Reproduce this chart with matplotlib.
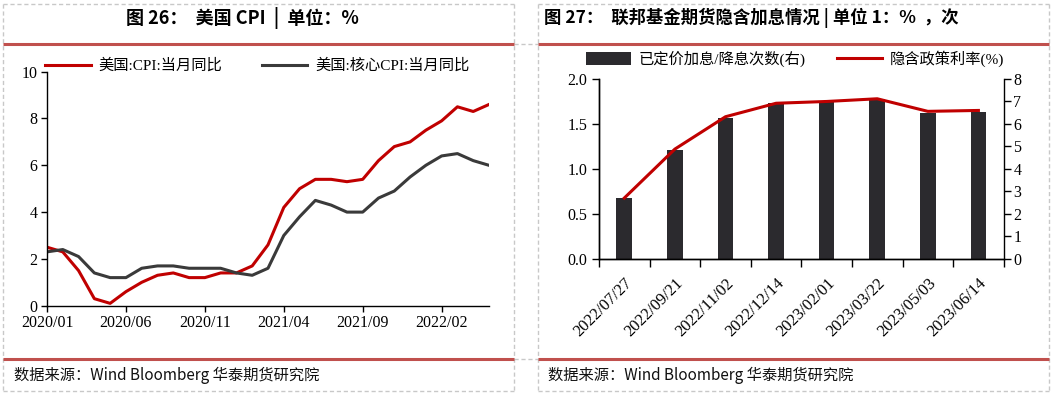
import matplotlib
matplotlib.use('Agg')
import matplotlib.pyplot as plt
from matplotlib.lines import Line2D
import numpy as np

# --- dados ---
months = ['2020/01', '2020/02', '2020/03', '2020/04', '2020/05', '2020/06',
          '2020/07', '2020/08', '2020/09', '2020/10', '2020/11', '2020/12',
          '2021/01', '2021/02', '2021/03', '2021/04', '2021/05', '2021/06',
          '2021/07', '2021/08', '2021/09', '2021/10', '2021/11', '2021/12',
          '2022/01', '2022/02', '2022/03', '2022/04', '2022/05']
cpi_yoy = [2.5, 2.3, 1.5, 0.3, 0.1, 0.6, 1.0, 1.3, 1.4, 1.2, 1.2, 1.4,
           1.4, 1.7, 2.6, 4.2, 5.0, 5.4, 5.4, 5.3, 5.4, 6.2, 6.8, 7.0,
           7.5, 7.9, 8.5, 8.3, 8.6]
core_cpi_yoy = [2.3, 2.4, 2.1, 1.4, 1.2, 1.2, 1.6, 1.7, 1.7, 1.6, 1.6, 1.6,
                1.4, 1.3, 1.6, 3.0, 3.8, 4.5, 4.3, 4.0, 4.0, 4.6, 4.9, 5.5,
                6.0, 6.4, 6.5, 6.2, 6.0]

fomc_dates = ['2022/07/27', '2022/09/21', '2022/11/02', '2022/12/14',
              '2023/02/01', '2023/03/22', '2023/05/03', '2023/06/14']
hikes_priced = [2.70, 4.84, 6.26, 6.93, 7.00, 7.11, 6.48, 6.53]
implied_rate = [0.675, 1.22, 1.58, 1.73, 1.75, 1.78, 1.64, 1.65]

W, H = 1052, 395
RED = '#C00000'
DARK = '#3A3A3A'
BAR = '#2B2A2E'
FRAME_RED = '#C0504D'
SERIF = ['Liberation Serif', 'Noto Sans CJK SC']
CJK = ['Noto Sans CJK SC', 'DejaVu Sans']

plt.rcParams['font.family'] = SERIF
plt.rcParams['axes.linewidth'] = 1.0

fig = plt.figure(figsize=(W / 100, H / 100), dpi=100)


def fx(px):
    return px / W


def fy(py):
    return 1 - py / H


def hline(x0, x1, y, **kw):
    fig.add_artist(Line2D([fx(x0), fx(x1)], [fy(y), fy(y)], transform=fig.transFigure, **kw))


def vline(x, y0, y1, **kw):
    fig.add_artist(Line2D([fx(x), fx(x)], [fy(y0), fy(y1)], transform=fig.transFigure, **kw))


# moldura tracejada dos paineis
dash = dict(color='#C8C8C8', lw=1.0, ls=(0, (3, 2)))
for x0, x1 in [(3, 514), (538, 1049)]:
    hline(x0, x1, 3.5, **dash)
    hline(x0, x1, 391, **dash)
    vline(x0, 3.5, 391, **dash)
    vline(x1, 3.5, 391, **dash)
hline(514, 538, 43.5, **dash)
hline(514, 538, 359, **dash)
for x0, x1 in [(3, 514), (538, 1049)]:
    hline(x0, x1, 43.5, color=FRAME_RED, lw=2.2, solid_capstyle='butt')
    hline(x0, x1, 359, color=FRAME_RED, lw=2.2, solid_capstyle='butt')

# titulos e fonte
fig.text(fx(242), fy(18), '图 26：  美国 CPI  |  单位：%', ha='center', va='center',
         fontsize=13, fontweight='bold', family=CJK)
fig.text(fx(544), fy(18), '图 27：  联邦基金期货隐含加息情况 | 单位 1：%  ，次', ha='left',
         va='center', fontsize=12.5, fontweight='bold', family=CJK)
for x in (14, 548):
    fig.text(fx(x), fy(375), '数据来源：Wind Bloomberg 华泰期货研究院', ha='left', va='center',
             fontsize=11, family=CJK, color='#111111')

# --- grafico esquerdo: CPI ---
ax1 = fig.add_axes([fx(47), fy(305.7), fx(489 - 47), (305.7 - 71.7) / H])
x = np.arange(len(months))
ax1.plot(x, cpi_yoy, color=RED, lw=2.2, label='美国:CPI:当月同比')
ax1.plot(x, core_cpi_yoy, color=DARK, lw=2.2, label='美国:核心CPI:当月同比')
ax1.set_xlim(0, len(months) - 1)
ax1.set_ylim(0, 10)
ax1.set_yticks(range(0, 11, 2))
ax1.set_xticks(x[::5])
ax1.set_xticklabels(months[::5])
for s in ['top', 'right']:
    ax1.spines[s].set_visible(False)
ax1.tick_params(direction='out', length=4, width=1, labelsize=11.5, pad=3)
ax1.legend(loc='center', bbox_to_anchor=(fx(257), fy(66)), bbox_transform=fig.transFigure,
           ncol=2, frameon=False, fontsize=11, handlelength=3.0, columnspacing=2.6,
           handletextpad=0.5, borderpad=0, borderaxespad=0)

# --- grafico direito: juros implicitos ---
ax2 = fig.add_axes([fx(599), fy(258.7), fx(1003.7 - 599), (258.7 - 79) / H])
ax3 = ax2.twinx()
c = np.arange(len(fomc_dates))
bars = ax3.bar(c, hikes_priced, width=0.31, color=BAR, label='已定价加息/降息次数(右)')
line, = ax2.plot(c, implied_rate, color=RED, lw=2.2, label='隐含政策利率(%)')
ax2.set_zorder(ax3.get_zorder() + 1)
ax2.patch.set_visible(False)
ax2.set_xlim(-0.5, len(fomc_dates) - 0.5)
ax2.set_ylim(0, 2.0)
ax2.set_yticks(np.arange(0, 2.01, 0.5))
ax2.set_yticklabels([f'{v:.1f}' for v in np.arange(0, 2.01, 0.5)])
ax3.set_ylim(0, 8)
ax3.set_yticks(range(0, 9))
ax2.set_xticks(np.arange(-0.5, len(fomc_dates), 1.0))
ax2.set_xticklabels([])
ax2.set_xticks(c, minor=True)
ax2.set_xticklabels(fomc_dates, minor=True, rotation=45, ha='right', va='top',
                    rotation_mode='anchor')
ax2.tick_params(axis='x', which='minor', length=0, pad=12, labelsize=12)
ax2.tick_params(axis='x', which='major', direction='out', length=6, width=1)
ax2.tick_params(axis='y', direction='out', length=5, width=1, labelsize=11.5)
ax3.tick_params(axis='y', direction='out', length=5, width=1, labelsize=11.5, pad=2)
for a in (ax2, ax3):
    a.spines['top'].set_visible(False)
ax2.spines['right'].set_visible(False)
fig.legend([bars, line], ['已定价加息/降息次数(右)', '隐含政策利率(%)'], loc='center',
           bbox_to_anchor=(fx(795), fy(59)), ncol=2, frameon=False, fontsize=11,
           handlelength=3.0, handleheight=0.9, columnspacing=2.0, handletextpad=0.5,
           borderpad=0, borderaxespad=0)

fig.savefig('out.png', dpi=100)
